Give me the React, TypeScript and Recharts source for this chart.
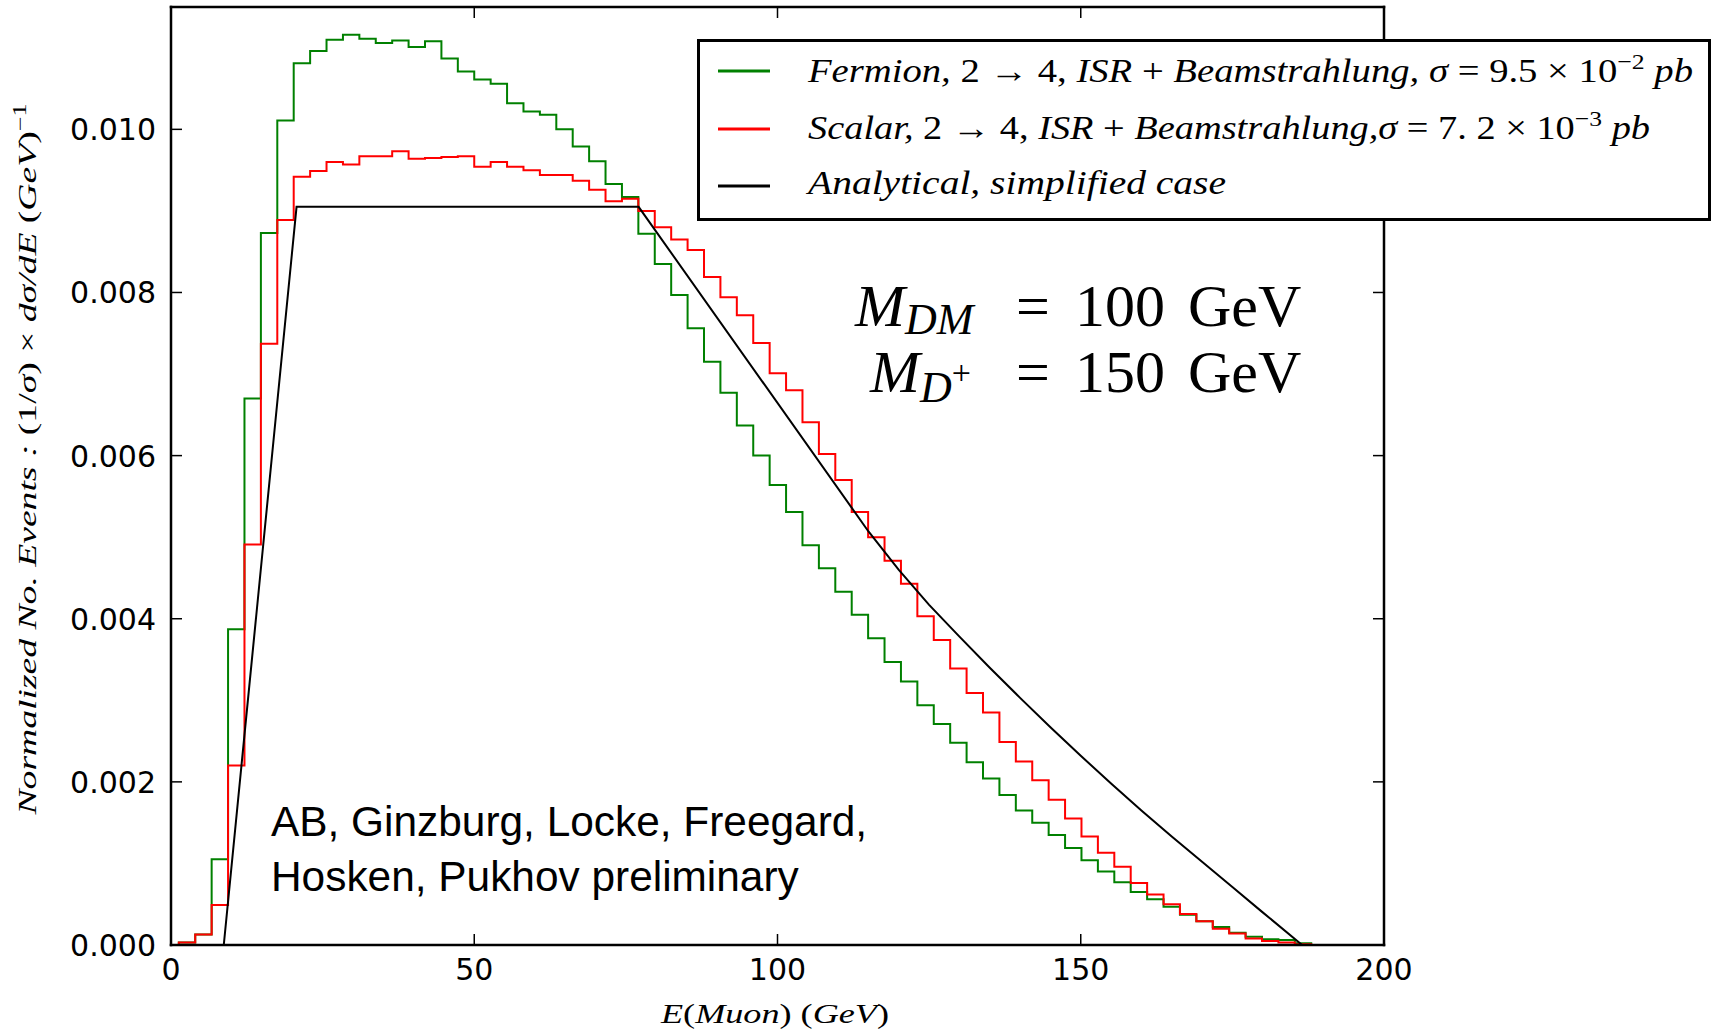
import { LineChart, Line, XAxis, YAxis, Legend } from "recharts";

const W = 1715;
const H = 1034;

// histogram binning (GeV)
const BIN_START = 1.29;
const BIN_WIDTH = 2.706;

// bin heights in units of 1e-3 GeV^-1
const fermion = [
  0.03, 0.13, 1.05, 3.87, 6.7, 8.73, 10.11, 10.81, 10.96, 11.1,
  11.16, 11.11, 11.06, 11.09, 11.01, 11.08, 10.87, 10.71, 10.61, 10.56,
  10.32, 10.22, 10.18, 10.0, 9.79, 9.61, 9.33, 9.17, 8.72, 8.35,
  7.97, 7.56, 7.15, 6.77, 6.37, 6.0, 5.64, 5.31, 4.9, 4.62,
  4.33, 4.05, 3.76, 3.47, 3.23, 2.94, 2.71, 2.48, 2.24, 2.04,
  1.84, 1.65, 1.5, 1.35, 1.19, 1.04, 0.9, 0.77, 0.65, 0.56,
  0.47, 0.37, 0.29, 0.22, 0.15, 0.1, 0.07, 0.06, 0.02, 0.0,
];
const scalar = [
  0.03, 0.13, 0.49, 2.2, 4.91, 7.37, 8.89, 9.42, 9.49, 9.6,
  9.57, 9.67, 9.67, 9.73, 9.64, 9.65, 9.66, 9.67, 9.54, 9.6,
  9.54, 9.5, 9.44, 9.44, 9.37, 9.26, 9.12, 9.15, 9.0, 8.8,
  8.65, 8.52, 8.19, 7.94, 7.72, 7.38, 7.01, 6.8, 6.41, 6.02,
  5.7, 5.31, 5.0, 4.71, 4.43, 4.03, 3.74, 3.39, 3.09, 2.85,
  2.49, 2.25, 2.02, 1.78, 1.55, 1.33, 1.13, 0.96, 0.76, 0.62,
  0.5, 0.38, 0.29, 0.2, 0.14, 0.08, 0.05, 0.03, 0.01, 0.0,
];

// analytical curve, E in GeV and value in 1e-3
const analyticE = [8.7, 20.7, 77.1, 115, 120, 125, 130, 135, 140, 145, 150, 155, 160, 165, 170, 175, 180, 186.5];
const analyticV = [0, 9.05, 9.05, 5.07, 4.6, 4.17, 3.78, 3.4, 3.03, 2.67, 2.32, 1.98, 1.65, 1.33, 1.02, 0.71, 0.4, 0];

const xTicks = [0, 50, 100, 150, 200];
const yTicks = [0, 0.002, 0.004, 0.006, 0.008, 0.01];

const hist = [{ e: 0, fermion: 0, scalar: 0 }].concat(
  fermion.map((f, k) => ({ e: BIN_START + k * BIN_WIDTH, fermion: f / 1000, scalar: scalar[k] / 1000 }))
);
const analytic = analyticE.map((e, i) => ({ e, analytic: analyticV[i] / 1000 }));

const TICK_FONT = "DejaVu Sans, sans-serif";
const SERIF = "Liberation Serif, Times New Roman, DejaVu Serif, serif";
const SANS = "Liberation Sans, Arial, sans-serif";
const GREEN = "#008000";
const RED = "#ff0000";
const frame = { stroke: "#000", strokeWidth: 2.5, strokeLinecap: "square" as const };

function LeftTick({ x, y, payload }: any) {
  return (
    <g>
      <line x1={x} x2={x + 11} y1={y} y2={y} stroke="#000" strokeWidth={1.5} />
      <text x={x - 15} y={y + 11} textAnchor="end" fontFamily={TICK_FONT} fontSize={30} fill="#000">
        {payload.value.toFixed(3)}
      </text>
    </g>
  );
}

function RightTick({ x, y }: any) {
  return <line x1={x} x2={x - 11} y1={y} y2={y} stroke="#000" strokeWidth={1.5} />;
}

function BottomTick({ x, y, payload }: any) {
  return (
    <g>
      <line x1={x} x2={x} y1={y} y2={y - 11} stroke="#000" strokeWidth={1.5} />
      <text x={x} y={y + 35} textAnchor="middle" fontFamily={TICK_FONT} fontSize={30} fill="#000">
        {payload.value}
      </text>
    </g>
  );
}

function TopTick({ x, y }: any) {
  return <line x1={x} x2={x} y1={y} y2={y + 11} stroke="#000" strokeWidth={1.5} />;
}

function LegendBox() {
  const rows = [
    { color: GREEN, y: 32 },
    { color: RED, y: 90 },
    { color: "#000", y: 147 },
  ];
  return (
    <svg width={1014} height={182} style={{ display: "block" }}>
      <rect x={1.5} y={1.5} width={1011} height={179} fill="#fff" stroke="#000" strokeWidth={3} />
      {rows.map((r) => (
        <line key={r.y} x1={21} x2={73} y1={r.y} y2={r.y} stroke={r.color} strokeWidth={3} />
      ))}
      <text x={111} y={43} fontFamily={SERIF} fontSize={33} fill="#000" textLength={885} lengthAdjust="spacingAndGlyphs">
        <tspan fontStyle="italic">Fermion,</tspan>
        {" 2 → 4, "}
        <tspan fontStyle="italic">ISR</tspan>
        {" + "}
        <tspan fontStyle="italic">Beamstrahlung,</tspan>
        {"  "}
        <tspan fontStyle="italic">σ</tspan>
        {" = 9.5 × 10"}
        <tspan fontSize={22} dy={-13}>−2</tspan>
        <tspan dy={13} fontStyle="italic">{" pb"}</tspan>
      </text>
      <text x={111} y={100} fontFamily={SERIF} fontSize={33} fill="#000" textLength={842} lengthAdjust="spacingAndGlyphs">
        <tspan fontStyle="italic">Scalar,</tspan>
        {" 2 → 4, "}
        <tspan fontStyle="italic">ISR</tspan>
        {" + "}
        <tspan fontStyle="italic">Beamstrahlung,σ</tspan>
        {" = 7. 2 × 10"}
        <tspan fontSize={22} dy={-13}>−3</tspan>
        <tspan dy={13} fontStyle="italic">{" pb"}</tspan>
      </text>
      <text x={111} y={155} fontFamily={SERIF} fontSize={33} fontStyle="italic" fill="#000" textLength={418} lengthAdjust="spacingAndGlyphs">
        Analytical,  simplified case
      </text>
    </svg>
  );
}

export default function App() {
  return (
    <div style={{ position: "absolute", left: 0, top: 0, width: W, height: H, background: "#fff" }}>
      <LineChart width={W} height={H} margin={{ top: 6, right: 330, bottom: 0, left: 0 }}>
        <XAxis
          xAxisId="b"
          type="number"
          dataKey="e"
          domain={[0, 200]}
          ticks={xTicks}
          interval={0}
          allowDataOverflow
          height={89}
          tickSize={0}
          tickMargin={0}
          tickLine={false}
          axisLine={frame}
          tick={<BottomTick />}
        />
        <XAxis
          xAxisId="t"
          orientation="top"
          type="number"
          dataKey="e"
          domain={[0, 200]}
          ticks={xTicks}
          interval={0}
          allowDataOverflow
          height={1}
          tickSize={0}
          tickMargin={0}
          tickLine={false}
          axisLine={frame}
          tick={<TopTick />}
        />
        <YAxis
          yAxisId="l"
          type="number"
          domain={[0, 0.0115]}
          ticks={yTicks}
          interval={0}
          allowDataOverflow
          width={171}
          tickSize={0}
          tickMargin={0}
          tickLine={false}
          axisLine={frame}
          tick={<LeftTick />}
        />
        <YAxis
          yAxisId="r"
          orientation="right"
          type="number"
          domain={[0, 0.0115]}
          ticks={yTicks}
          interval={0}
          allowDataOverflow
          width={1}
          tickSize={0}
          tickMargin={0}
          tickLine={false}
          axisLine={frame}
          tick={<RightTick />}
        />
        <Line xAxisId="b" yAxisId="l" data={hist} dataKey="fermion" type="stepAfter" stroke={GREEN} strokeWidth={2} dot={false} isAnimationActive={false} />
        <Line xAxisId="b" yAxisId="l" data={hist} dataKey="scalar" type="stepAfter" stroke={RED} strokeWidth={2} dot={false} isAnimationActive={false} />
        <Line xAxisId="b" yAxisId="l" data={analytic} dataKey="analytic" type="linear" stroke="#000" strokeWidth={2} dot={false} isAnimationActive={false} />
        <Legend
          layout="vertical"
          align="center"
          verticalAlign="middle"
          content={() => <LegendBox />}
          wrapperStyle={{ left: 697, top: 39, width: 1014, height: 182 }}
        />
      </LineChart>
      <svg width={W} height={H} style={{ position: "absolute", left: 0, top: 0, pointerEvents: "none" }}>
        <text y={326} fontFamily={SERIF} fontSize={60} fill="#000">
          <tspan x={855} fontStyle="italic">M</tspan>
          <tspan fontStyle="italic" fontSize={44} dy={8}>DM</tspan>
          <tspan x={1016} dy={-8}>=</tspan>
          <tspan x={1075}>100</tspan>
          <tspan x={1188}>GeV</tspan>
        </text>
        <text y={392} fontFamily={SERIF} fontSize={60} fill="#000">
          <tspan x={870} fontStyle="italic">M</tspan>
          <tspan fontStyle="italic" fontSize={44} dy={10}>D</tspan>
          <tspan fontSize={34} dy={-18}>+</tspan>
          <tspan x={1016} dy={8}>=</tspan>
          <tspan x={1075}>150</tspan>
          <tspan x={1188}>GeV</tspan>
        </text>
        <text x={271} y={836} fontFamily={SANS} fontSize={42.4} fill="#000">AB, Ginzburg, Locke, Freegard,</text>
        <text x={271} y={891} fontFamily={SANS} fontSize={42.4} fill="#000">Hosken, Pukhov preliminary</text>
        <text x={775} y={1023} textAnchor="middle" fontFamily={SERIF} fontSize={27} fill="#000" textLength={228} lengthAdjust="spacingAndGlyphs">
          <tspan fontStyle="italic">E</tspan>(<tspan fontStyle="italic">Muon</tspan>) (<tspan fontStyle="italic">GeV</tspan>)
        </text>
        <text
          transform="translate(36,459) rotate(-90)"
          textAnchor="middle"
          fontFamily={SERIF}
          fontSize={26}
          fill="#000"
          textLength={711}
          lengthAdjust="spacingAndGlyphs"
        >
          <tspan fontStyle="italic">Normalized No. Events :</tspan>
          {" (1/"}
          <tspan fontStyle="italic">σ</tspan>
          {") × "}
          <tspan fontStyle="italic">dσ/dE</tspan>
          {" ("}
          <tspan fontStyle="italic">GeV</tspan>
          {")"}
          <tspan fontSize={18} dy={-10}>−1</tspan>
        </text>
      </svg>
    </div>
  );
}
